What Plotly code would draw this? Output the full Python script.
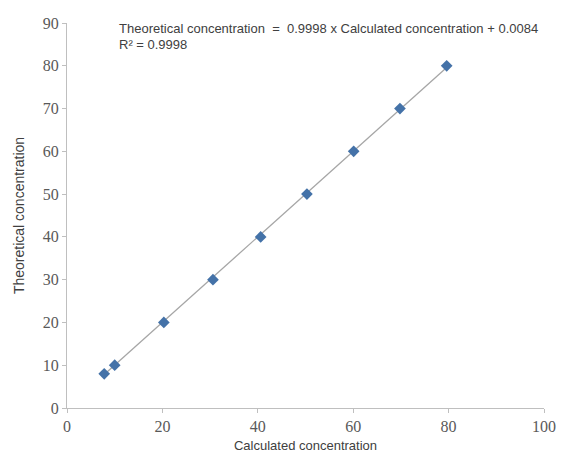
import plotly.graph_objects as go

calculated = [7.8, 10.0, 20.3, 30.6, 40.6, 50.3, 60.1, 69.8, 79.6]
theoretical = [8, 10, 20, 30, 40, 50, 60, 70, 80]
slope = 0.9998
intercept = 0.0084
r2 = 0.9998
x_ticks = [0, 20, 40, 60, 80, 100]
y_ticks = [0, 10, 20, 30, 40, 50, 60, 70, 80, 90]

trend_x = [min(calculated), max(calculated)]
trend_y = [slope * v + intercept for v in trend_x]

fig = go.Figure()
fig.add_trace(go.Scatter(x=trend_x, y=trend_y, mode="lines",
                         line=dict(color="#a6a6a6", width=1.3), showlegend=False))
fig.add_trace(go.Scatter(x=calculated, y=theoretical, mode="markers",
                         marker=dict(symbol="diamond", size=9, color="#4472a8",
                                     line=dict(width=0)), showlegend=False))

fig.add_annotation(xref="paper", yref="paper", x=0.105, y=0.987, xanchor="left", yanchor="middle",
                   text=f"Theoretical concentration  =  {slope:.4f} x Calculated concentration + {intercept:.4f}",
                   showarrow=False, font=dict(family="Liberation Sans", size=13, color="#404040"))
fig.add_annotation(xref="paper", yref="paper", x=0.105, y=0.943, xanchor="left", yanchor="middle",
                   text=f"R² = {r2:.4f}",
                   showarrow=False, font=dict(family="Liberation Sans", size=13, color="#404040"))

fig.update_layout(
    width=549, height=445,
    margin=dict(l=59, r=13, t=15, b=45),
    paper_bgcolor="white", plot_bgcolor="white",
    xaxis=dict(range=[0, 100], tickvals=x_ticks, showgrid=False, zeroline=False,
               automargin=False, ticklabeloverflow="allow",
               showline=True, linecolor="#bfbfbf", linewidth=1,
               ticks="outside", ticklen=4, tickcolor="#bfbfbf",
               tickfont=dict(family="Liberation Serif", size=16, color="#595959"),
               title=dict(text="Calculated concentration", standoff=19,
                          font=dict(family="Liberation Sans", size=13, color="#404040"))),
    yaxis=dict(range=[0, 90], tickvals=y_ticks, showgrid=False, zeroline=False,
               automargin=False, ticklabeloverflow="allow",
               showline=True, linecolor="#bfbfbf", linewidth=1,
               ticks="outside", ticklen=4, tickcolor="#bfbfbf",
               tickfont=dict(family="Liberation Serif", size=16, color="#595959"),
               title=dict(text="Theoretical concentration", standoff=14,
                          font=dict(family="Liberation Sans", size=14, color="#404040"))),
)

fig.write_html("out.html")
